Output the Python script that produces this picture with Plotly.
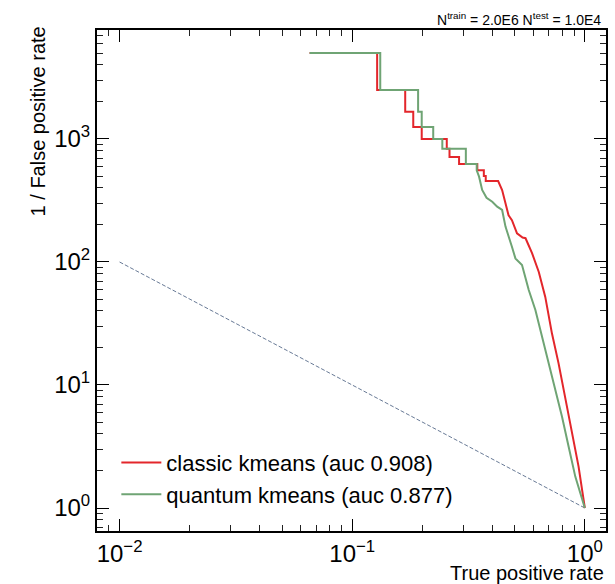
import plotly.graph_objects as go

# ROC data: true positive rate (x) vs 1 / false positive rate (y)
classic_tpr = [0.0656, 0.128, 0.128, 0.169, 0.169, 0.183, 0.183, 0.199, 0.199, 0.255, 0.255,
               0.262, 0.262, 0.288, 0.288, 0.345, 0.345, 0.368, 0.368, 0.375, 0.375, 0.424,
               0.441, 0.456, 0.470, 0.486, 0.511, 0.540, 0.556, 0.593, 0.634, 0.676, 0.722,
               0.771, 0.824, 0.881, 0.940, 1.0]
classic_inv_fpr = [5000, 5000, 2500, 2500, 1667, 1667, 1250, 1250, 1000, 1000, 833,
                   833, 714, 714, 625, 625, 556, 556, 500, 500, 455, 455,
                   385, 300, 240, 219, 171, 158, 156, 118, 83, 52, 26.3,
                   15.0, 8.03, 4.05, 2.17, 1.0]

quantum_tpr = [0.0656, 0.132, 0.132, 0.192, 0.192, 0.199, 0.199, 0.223, 0.223, 0.244, 0.244,
               0.308, 0.308, 0.343, 0.343, 0.351, 0.362, 0.378, 0.400, 0.420, 0.441,
               0.456, 0.486, 0.503, 0.537, 0.574, 0.613, 0.655, 0.699, 0.747, 0.798,
               0.852, 0.910, 1.0]
quantum_inv_fpr = [5000, 5000, 2500, 2500, 1667, 1667, 1250, 1250, 1000, 1000, 833,
                   833, 625, 625, 556, 494, 385, 333, 309, 282, 265,
                   194, 133, 107, 94.6, 59.2, 40.7, 24.7, 15.0, 9.1, 5.52,
                   3.15, 1.80, 1.0]

random_tpr = [0.01, 1.0]
random_inv_fpr = [100, 1.0]

series_names = ["classic kmeans (auc 0.908)", "quantum kmeans (auc 0.877)"]
x_tick_vals = [0.01, 0.1, 1]
x_tick_text = ["10<sup>−2</sup>", "10<sup>−1</sup>", "10<sup>0</sup>"]
y_tick_vals = [1, 10, 100, 1000]
y_tick_text = ["10<sup>0</sup>", "10<sup>1</sup>", "10<sup>2</sup>", "10<sup>3</sup>"]

x_minor = [m * 10.0 ** e for e in range(-3, 1) for m in range(2, 10)]
y_minor = [m * 10.0 ** e for e in range(-1, 4) for m in range(2, 10)]

FONT = "Liberation Sans, Arial, sans-serif"

fig = go.Figure()
fig.add_trace(go.Scatter(x=random_tpr, y=random_inv_fpr, mode="lines",
                         line=dict(color="#687a96", width=1, dash="4px,2px"),
                         showlegend=False, hoverinfo="skip"))
fig.add_trace(go.Scatter(x=classic_tpr, y=classic_inv_fpr, mode="lines", name=series_names[0],
                         legendgroup="a",
                         line=dict(color="#e3262b", width=2)))
fig.add_trace(go.Scatter(x=quantum_tpr, y=quantum_inv_fpr, mode="lines", name=series_names[1],
                         legendgroup="b",
                         line=dict(color="#6fa474", width=2)))

fig.update_xaxes(type="log", range=[-2.097, 0.091], showline=True, linecolor="black", linewidth=2,
                 mirror="ticks", ticks="inside", ticklen=12, tickcolor="black", tickwidth=1,
                 tickvals=x_tick_vals, ticktext=x_tick_text,
                 tickfont=dict(family=FONT, size=24, color="black"),
                 minor=dict(tickmode="array", tickvals=x_minor, ticks="inside", ticklen=6,
                            tickcolor="#222222"))
fig.update_yaxes(type="log", range=[-0.187, 3.886], showline=True, linecolor="black", linewidth=2,
                 mirror="ticks", ticks="inside", ticklen=12, tickcolor="black", tickwidth=1,
                 tickvals=y_tick_vals, ticktext=y_tick_text,
                 tickfont=dict(family=FONT, size=24, color="black"),
                 minor=dict(tickmode="array", tickvals=y_minor, ticks="inside", ticklen=6,
                            tickcolor="#222222"))

fig.update_layout(
    width=615, height=584,
    margin=dict(l=97, r=7, t=30, b=53),
    paper_bgcolor="white", plot_bgcolor="white",
    font=dict(family=FONT, color="black"),
    legend=dict(x=0.038, y=0.178, xanchor="left", yanchor="top",
                font=dict(family=FONT, size=22, color="black"),
                itemwidth=40,
                bgcolor="rgba(0,0,0,0)", tracegroupgap=0),
    annotations=[
        dict(text="1 / False positive rate", xref="paper", yref="paper",
             x=-0.1155, y=0.818, xanchor="center", yanchor="middle", textangle=-90,
             showarrow=False, font=dict(family=FONT, size=20, color="black")),
        dict(text="True positive rate", xref="paper", yref="paper",
             x=1.0, y=-0.083, xanchor="right", yanchor="middle",
             showarrow=False, font=dict(family=FONT, size=20, color="black")),
        dict(text="N<sup>train</sup> = 2.0E6 N<sup>test</sup> = 1.0E4", xref="paper", yref="paper",
             x=0.995, y=1.0, xanchor="right", yanchor="bottom",
             showarrow=False, font=dict(family=FONT, size=14, color="black")),
    ],
)

fig.write_html("out.html")
